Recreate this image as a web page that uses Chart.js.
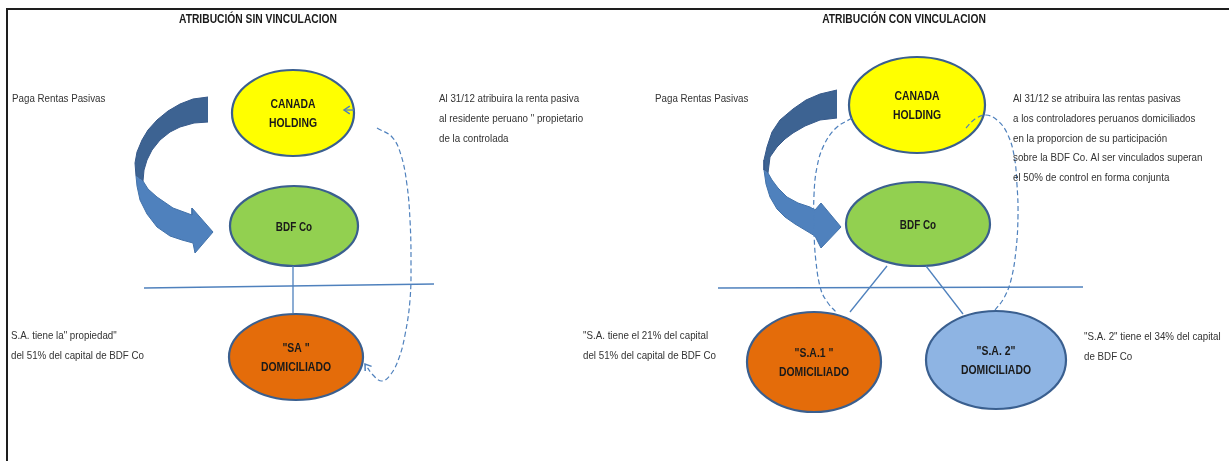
<!DOCTYPE html>
<html lang="es">

<head>
	<meta charset="UTF-8">
	<title>Atribución sin / con vinculación</title>
	<script src="https://cdn.jsdelivr.net/npm/chart.js@4.4.1/dist/chart.umd.min.js"></script>
	<style>
		html, body { margin: 0; padding: 0; background: #fff; }
		.wrap { position: relative; width: 1229px; height: 461px; overflow: hidden; }
		.frame { position: absolute; left: 6px; top: 8px; width: 1240px; height: 470px;
			border-top: 2px solid #1e1e1e; border-left: 2px solid #1e1e1e; }
		#diagram { position: absolute; left: 0; top: 0; }
	</style>
</head>

<body>
	<div class="wrap">
		<div class="frame"></div>
		<canvas id="diagram" width="1229" height="461"></canvas>
	</div>

	<script>
		// ---- datos del esquema (unidades del dibujo: x 0-1229, y 0-461 hacia abajo) ----
		var titles = ['ATRIBUCIÓN SIN VINCULACION', 'ATRIBUCIÓN CON VINCULACION'];
		var titleX = [258, 904];
		var titleY = [20, 20];

		var nodeLabels = [
			['CANADA', 'HOLDING'], ['BDF Co'], ['"SA "', 'DOMICILIADO'],
			['CANADA', 'HOLDING'], ['BDF Co'], ['"S.A.1 "', 'DOMICILIADO'], ['"S.A. 2"', 'DOMICILIADO']
		];
		var nodeX = [293, 294, 296, 917, 918, 814, 996];
		var nodeY = [113, 226, 357, 105, 224, 362, 360];

		var notes = [
			['Paga Rentas Pasivas'],
			['Al 31/12 atribuira la renta pasiva', 'al residente peruano " propietario', 'de la controlada'],
			['S.A. tiene la" propiedad"', 'del 51% del capital de BDF Co'],
			['Paga Rentas Pasivas'],
			['Al 31/12 se atribuira las rentas pasivas', 'a los controladores peruanos domiciliados',
				'en la proporcion de su participación', 'sobre la BDF Co. Al ser vinculados superan',
				'el 50% de control en forma conjunta'],
			['"S.A. tiene el 21% del capital', 'del 51% del capital de BDF Co'],
			['"S.A. 2" tiene el 34% del capital', 'de BDF Co']
		];
		var noteX = [12, 439, 11, 655, 1013, 583, 1084];
		var noteY = [99, 99, 336, 99, 99, 336, 337];

		// lineas continuas
		var links = [
			[[144, 288], [434, 284]],
			[[293, 266], [293, 313]],
			[[718, 288], [1083, 287]],
			[[887, 266], [850, 312]],
			[[926, 266], [963, 314]],
			[[354, 110], [344, 110]]
		];
		// lineas punteadas
		var dashedLinks = [
			[[377, 128], [392, 137], [401, 155], [407, 185], [410, 220], [411, 260], [410, 300], [405, 335],
				[399, 358], [391, 374], [382, 381], [373, 375], [365, 364]],
			[[852, 118], [836, 128], [824, 145], [817, 167], [814, 195], [814, 230], [816, 262], [821, 290],
				[828, 303], [836, 312]],
			[[966, 128], [975, 119], [986, 115], [997, 120], [1007, 133], [1014, 155], [1017, 185], [1018, 215],
				[1016, 250], [1011, 280], [1004, 298], [995, 310]]
		];

		// flechas curvas "Paga Rentas Pasivas" (parte trasera y delantera)
		var arrowBack = [
			[[208, 97], [193, 99], [180, 104], [168, 111], [157, 120], [148, 130], [142, 140], [137, 152], [135, 163],
				[136, 176], [143, 181], [144, 170], [147, 160], [152, 150], [160, 140], [170, 132], [180, 127],
				[194, 123], [208, 122]],
			[[837, 90], [820, 94], [806, 100], [793, 109], [780, 120], [772, 132], [767, 147], [764, 160], [764, 170],
				[768, 173], [770, 157], [777, 147], [785, 139], [793, 133], [805, 126], [820, 120], [837, 118]]
		];
		var arrowFront = [
			[[136, 176], [137, 186], [140, 200], [147, 214], [157, 227], [170, 236], [182, 240], [193, 243],
				[195, 253], [213, 232], [192, 208], [192, 215], [173, 208], [157, 197], [148, 189], [143, 181]],
			[[764, 170], [766, 184], [770, 197], [777, 209], [785, 217], [795, 224], [805, 230], [815, 236],
				[821, 248], [841, 227], [821, 203], [815, 210], [810, 207], [798, 203], [787, 197], [778, 188],
				[772, 180], [768, 173]]
		];

		// ---- estilos ----
		var nodeRx = [61, 64, 67, 68, 72, 67, 70];
		var nodeRy = [43, 40, 43, 48, 42, 50, 49];
		var nodeFill = ['#FFFF00', '#92D050', '#E46C0A', '#FFFF00', '#92D050', '#E46C0A', '#8EB4E3'];
		var lineBlue = '#4F81BD';
		var FONT = '"Liberation Sans Narrow", "Liberation Sans", Arial, sans-serif';

		function pts(list) {
			return list.map(function (p) { return { x: p[0], y: p[1] }; });
		}

		var datasets = [];
		dashedLinks.forEach(function (d) {
			datasets.push({
				type: 'line', data: pts(d), borderColor: lineBlue, borderWidth: 1.2,
				borderDash: [5, 3], tension: 0.4, pointRadius: 0, fill: false
			});
		});
		links.forEach(function (d) {
			datasets.push({
				type: 'line', data: pts(d), borderColor: lineBlue, borderWidth: 1.3,
				tension: 0, pointRadius: 0, fill: false
			});
		});
		arrowFront.forEach(function (d) {
			datasets.push({
				type: 'line', data: pts(d), borderColor: '#4272AA', borderWidth: 1,
				backgroundColor: '#4F81BD', tension: 0, pointRadius: 0, fill: 'shape'
			});
		});
		arrowBack.forEach(function (d) {
			datasets.push({
				type: 'line', data: pts(d), borderColor: '#36598A', borderWidth: 1,
				backgroundColor: '#3D6392', tension: 0, pointRadius: 0, fill: 'shape'
			});
		});
		// entidades (los ovalos se dibujan en el plugin)
		datasets.push({
			type: 'scatter', data: nodeX.map(function (x, i) { return { x: x, y: nodeY[i] }; }),
			pointRadius: 0
		});

		function fitScale(ctx, font, sample, target) {
			ctx.font = font;
			return target / ctx.measureText(sample).width;
		}

		function drawText(ctx, text, x, y, k, align) {
			ctx.save();
			ctx.translate(x, y);
			ctx.scale(k, 1);
			ctx.textAlign = align;
			ctx.textBaseline = 'middle';
			ctx.fillText(text, 0, 0);
			ctx.restore();
		}

		function arrowHead(ctx, from, to) {
			var a = Math.atan2(to.y - from.y, to.x - from.x);
			var len = 7;
			ctx.beginPath();
			ctx.moveTo(to.x - len * Math.cos(a - 0.6), to.y - len * Math.sin(a - 0.6));
			ctx.lineTo(to.x, to.y);
			ctx.lineTo(to.x - len * Math.cos(a + 0.6), to.y - len * Math.sin(a + 0.6));
			ctx.stroke();
		}

		var schemePlugin = {
			id: 'scheme',
			beforeDatasetsDraw: function (chart) {
				var ctx = chart.ctx, sx = chart.scales.x, sy = chart.scales.y;
				ctx.save();
				nodeX.forEach(function (x, i) {
					var cx = sx.getPixelForValue(x), cy = sy.getPixelForValue(nodeY[i]);
					var rx = Math.abs(sx.getPixelForValue(x + nodeRx[i]) - cx);
					var ry = Math.abs(sy.getPixelForValue(nodeY[i] + nodeRy[i]) - cy);
					ctx.beginPath();
					ctx.ellipse(cx, cy, rx, ry, 0, 0, Math.PI * 2);
					ctx.fillStyle = nodeFill[i];
					ctx.fill();
					ctx.lineWidth = 2.2;
					ctx.strokeStyle = '#3A5F8F';
					ctx.stroke();
				});
				ctx.restore();
			},
			afterDatasetsDraw: function (chart) {
				var ctx = chart.ctx, sx = chart.scales.x, sy = chart.scales.y;
				ctx.save();

				// puntas de flecha
				ctx.strokeStyle = lineBlue;
				ctx.lineWidth = 1.5;
				[dashedLinks[0], links[links.length - 1]].forEach(function (d) {
					var p = d[d.length - 2], q = d[d.length - 1];
					arrowHead(ctx,
						{ x: sx.getPixelForValue(p[0]), y: sy.getPixelForValue(p[1]) },
						{ x: sx.getPixelForValue(q[0]), y: sy.getPixelForValue(q[1]) });
				});

				// titulos
				var titleFont = 'bold 12px ' + FONT;
				var kTitle = fitScale(ctx, titleFont, titles[0], 158);
				ctx.fillStyle = '#1a1a1a';
				titles.forEach(function (t, i) {
					ctx.font = titleFont;
					drawText(ctx, t, sx.getPixelForValue(titleX[i]), sy.getPixelForValue(titleY[i]), kTitle, 'center');
				});

				// textos de las entidades
				var nodeFont = 'bold 13px ' + FONT;
				var kNode = fitScale(ctx, nodeFont, 'DOMICILIADO', 70);
				nodeLabels.forEach(function (lines, i) {
					ctx.font = nodeFont;
					var cx = sx.getPixelForValue(nodeX[i]), cy = sy.getPixelForValue(nodeY[i]);
					var k = lines[0] === 'BDF Co' ? kNode * 0.95 : kNode;
					if (lines.length === 1) {
						drawText(ctx, lines[0], cx, cy + 1, k, 'center');
					} else {
						drawText(ctx, lines[0], cx, cy - 9, k, 'center');
						drawText(ctx, lines[1], cx, cy + 10, k, 'center');
					}
				});

				// notas
				var noteFont = '11px ' + FONT;
				var kNote = fitScale(ctx, noteFont, 'del 51% del capital de BDF Co', 133);
				ctx.fillStyle = '#333333';
				notes.forEach(function (lines, i) {
					lines.forEach(function (t, j) {
						ctx.font = noteFont;
						drawText(ctx, t, sx.getPixelForValue(noteX[i]),
							sy.getPixelForValue(noteY[i] + j * 19.8), kNote, 'left');
					});
				});
				ctx.restore();
			}
		};

		var diagram = new Chart(document.getElementById('diagram'), {
			type: 'scatter',
			data: { datasets: datasets },
			plugins: [schemePlugin],
			options: {
				responsive: false,
				animation: false,
				events: [],
				layout: { padding: 0 },
				plugins: {
					legend: { display: false },
					tooltip: { enabled: false }
				},
				scales: {
					x: { type: 'linear', min: 0, max: 1229, display: false },
					y: { type: 'linear', min: 0, max: 461, reverse: true, display: false }
				}
			}
		});
	</script>
</body>

</html>
